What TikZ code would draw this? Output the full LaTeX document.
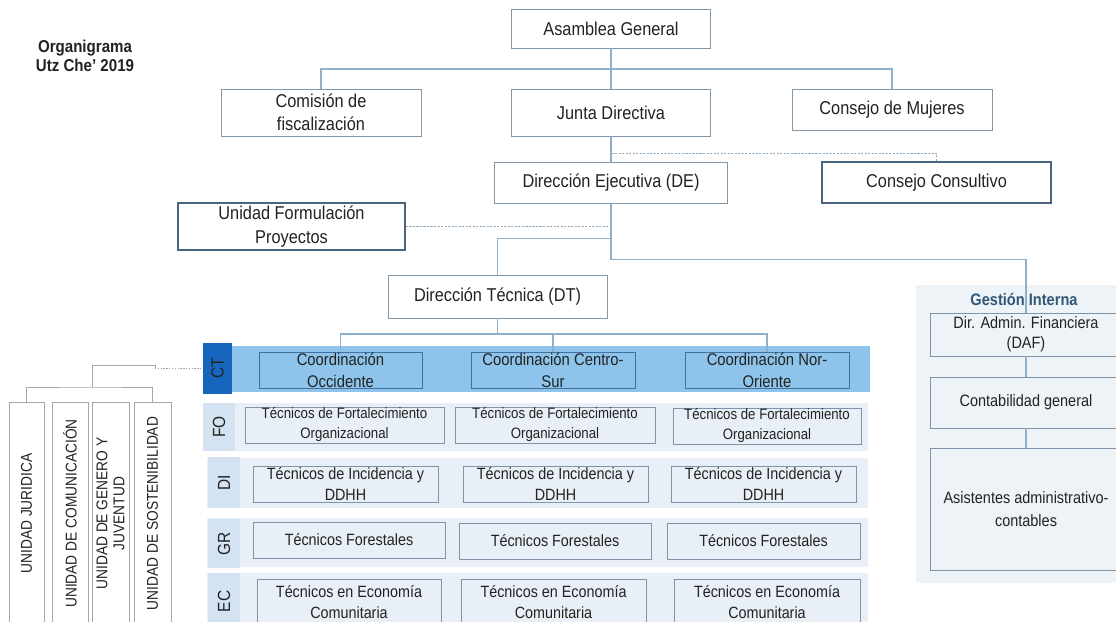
\documentclass[tikz,border=0pt]{standalone}
\usepackage{fontspec}
\setmainfont{Liberation Sans}[FakeStretch=0.88]
\usepackage{tikz}
\usetikzlibrary{calc}

\definecolor{linkblue}{HTML}{8DB1CD}
\definecolor{boxgray}{HTML}{8397AB}
\definecolor{boxdark}{HTML}{4A6580}
\definecolor{ctdark}{HTML}{1766BE}
\definecolor{ctlight}{HTML}{8EC4EB}
\definecolor{coline}{HTML}{40719F}
\definecolor{rowbg}{HTML}{E9EFF7}
\definecolor{rowcell}{HTML}{D4E3F2}
\definecolor{rowline}{HTML}{8093A8}
\definecolor{gibg}{HTML}{EEF3F8}
\definecolor{gititle}{HTML}{335777}
\definecolor{unitline}{HTML}{A0A8B0}
\definecolor{txt}{HTML}{222222}

\begin{document}
\begin{tikzpicture}[x=0.025cm, y=-0.025cm,
  box/.style={rectangle, draw=boxgray, fill=white, text=txt, align=center,
    inner sep=0pt, font=\fontsize{13.2}{16.5}\selectfont},
  thickbox/.style={box, draw=boxdark, line width=1.2pt},
  coord/.style={rectangle, draw=coline, fill=ctlight, text=txt, align=center,
    inner sep=0pt, minimum height=0.9cm, font=\fontsize{12}{15.6}\selectfont},
  tech/.style={rectangle, draw=rowline, fill=rowbg, text=txt, align=center,
    inner sep=0pt, minimum height=0.9cm, font=\fontsize{11.6}{15}\selectfont},
  rowtag/.style={rectangle, fill=rowcell, text=txt, rotate=90, inner sep=0pt,
    font=\fontsize{12.5}{14}\selectfont},
  unit/.style={rectangle, draw=unitline, fill=white, text=txt, rotate=90, align=center,
    inner sep=0pt, minimum width=5.575cm, font=\fontsize{11.1}{12}\selectfont},
  gibox/.style={rectangle, draw=rowline, fill=gibg, text=txt, align=center,
    inner sep=0pt, minimum width=4.8cm, font=\fontsize{11.7}{14.5}\selectfont},
  conn/.style={draw=linkblue, line width=0.8pt},
  dashconn/.style={draw=linkblue!80!gray, line width=0.8pt, dash pattern=on 1.5pt off 1pt},
  uline/.style={draw=unitline, line width=0.6pt}]
 \useasboundingbox (0,0) rectangle (1116,622);
 \fill[white] (0,0) rectangle (1116,622);
 % bands behind the technical rows
 \fill[ctlight] (203,346) rectangle (870,392);
 \fill[rowbg] (203,403) rectangle (868,451);
 \fill[rowbg] (207,458) rectangle (868,508);
 \fill[rowbg] (207,518) rectangle (868,567);
 \fill[rowbg] (207,573) rectangle (868,630);
 \fill[gibg] (916,285) rectangle (1130,583);

 \node [text=txt, align=center, font=\bfseries\fontsize{12.2}{13.5}\selectfont] (title) at (85,56) {Organigrama\\Utz Che’ 2019};

 \node [box, minimum width=4.975cm, minimum height=0.975cm] (asamblea)   at (611,28.5)  {Asamblea General};
 \node [box, minimum width=5cm,     minimum height=1.175cm] (comision)   at (321,112.5) {Comisión de\\fiscalización};
 \node [box, minimum width=4.975cm, minimum height=1.175cm] (junta)      at (611,112.5) {Junta Directiva};
 \node [box, minimum width=5cm,     minimum height=1.025cm] (mujeres)    at (892,109.5) {Consejo de Mujeres};
 \node [box, minimum width=5.825cm, minimum height=1.025cm] (ejecutiva)  at (611,182.5) {Dirección Ejecutiva (DE)};
 \node [thickbox, minimum width=5.725cm, minimum height=1.025cm] (consultivo) at (936.5,182.5) {Consejo Consultivo};
 \node [thickbox, minimum width=5.675cm, minimum height=1.175cm] (formulacion) at (291.5,226.5) {Unidad Formulación\\Proyectos};
 \node [box, minimum width=5.475cm, minimum height=1.075cm] (tecnica)    at (497.5,296.5) {Dirección Técnica (DT)};

 % row labels
 \node [rowtag, fill=ctdark, minimum width=1.25cm, minimum height=0.725cm] (ct) at (217.5,368.5) {CT};
 \node [rowtag, minimum width=1.2cm,   minimum height=0.8cm] (fo) at (219,427)   {FO};
 \node [rowtag, minimum width=1.275cm, minimum height=0.8cm] (di) at (224,482.5) {DI};
 \node [rowtag, minimum width=1.225cm, minimum height=0.8cm] (gr) at (224,543.5) {GR};
 \node [rowtag, minimum width=1.425cm, minimum height=0.8cm] (ec) at (224,601.5) {EC};

 \node [coord, minimum width=4.075cm] (coord1) at (340.5,370) {Coordinación\\Occidente};
 \node [coord, minimum width=4.1cm]   (coord2) at (553,370)   {Coordinación Centro-\\Sur};
 \node [coord, minimum width=4.1cm]   (coord3) at (767,370)   {Coordinación Nor-\\Oriente};

 \node [tech, minimum width=4.975cm, font=\fontsize{10.7}{14.2}\selectfont] (fo1) at (344.5,425) {Técnicos de Fortalecimiento\\Organizacional};
 \node [tech, minimum width=5cm,     font=\fontsize{10.7}{14.2}\selectfont] (fo2) at (555,425)   {Técnicos de Fortalecimiento\\Organizacional};
 \node [tech, minimum width=4.7cm,   font=\fontsize{10.7}{14.2}\selectfont] (fo3) at (767,426)   {Técnicos de Fortalecimiento\\Organizacional};
 \node [tech, minimum width=4.625cm] (di1) at (345.5,484) {Técnicos de Incidencia y\\DDHH};
 \node [tech, minimum width=4.625cm] (di2) at (555.5,484) {Técnicos de Incidencia y\\DDHH};
 \node [tech, minimum width=4.625cm] (di3) at (763.5,484) {Técnicos de Incidencia y\\DDHH};
 \node [tech, minimum width=4.8cm]   (gr1) at (349,540)   {Técnicos Forestales};
 \node [tech, minimum width=4.8cm]   (gr2) at (555,541)   {Técnicos Forestales};
 \node [tech, minimum width=4.825cm] (gr3) at (763.5,541) {Técnicos Forestales};
 \node [tech, minimum width=4.6cm,   minimum height=1.15cm] (ec1) at (349,602)   {Técnicos en Economía\\Comunitaria};
 \node [tech, minimum width=4.625cm, minimum height=1.15cm] (ec2) at (553.5,602) {Técnicos en Economía\\Comunitaria};
 \node [tech, minimum width=4.65cm,  minimum height=1.15cm] (ec3) at (767,602)   {Técnicos en Economía\\Comunitaria};

 % staff units, left
 \node [unit, minimum height=0.875cm] (juridica)     at (26.5,513.5)  {UNIDAD JURIDICA};
 \node [unit, minimum height=0.9cm]   (comunicacion) at (70,513.5)    {UNIDAD DE COMUNICACIÓN};
 \node [unit, minimum height=0.925cm] (genero)       at (110.5,513.5) {UNIDAD DE GENERO Y\\JUVENTUD};
 \node [unit, minimum height=0.925cm] (sostenible)   at (152.5,513.5) {UNIDAD DE SOSTENIBILIDAD};

 % Gestion Interna
 \node [text=gititle, font=\bfseries\fontsize{11.8}{14}\selectfont] (gestion) at (1024,299) {Gestión Interna};
 \node [gibox, minimum height=1.075cm] (daf)       at (1026,334.5) {Dir. Admin. Financiera\\(DAF)};
 \node [gibox, minimum height=1.275cm] (contable)  at (1026,402.5) {Contabilidad general};
 \node [gibox, minimum height=3.05cm, font=\fontsize{11.7}{16.4}\selectfont] (asistentes) at (1026,509) {Asistentes administrativo-\\contables};

 \coordinate (agbus) at (611,69);
 \coordinate (dtbus) at (497.5,334);
 \coordinate (ubus) at (92,387);
 \coordinate (ujoin) at (155,368.5);

  \draw[conn] (asamblea) -- (junta);
  \draw[conn] (comision.north) |- (agbus) -| (mujeres.north);
  \draw[conn] (junta) -- (ejecutiva);
  \draw[dashconn] (junta.south) -- ++(0,17) -| (consultivo.north);
  \draw[dashconn] (formulacion.east) -- (formulacion.east -| ejecutiva.south);
  \draw[conn] (ejecutiva.south) -- ++(0,35) -| (tecnica.north);
  \draw[conn] (ejecutiva.south) -- ++(0,56) -| (daf.north);
  \draw[conn] (tecnica.south) -- (dtbus);
  \draw[conn] (coord1.north) |- (dtbus) -| (coord3.north);
  \draw[conn] (coord2.north) -- (coord2.north |- dtbus);
  \draw[conn] (daf) -- (contable);
  \draw[conn] (contable) -- (asistentes);
  \draw[uline] (juridica.east) |- (ubus) -| (sostenible.east);
  \draw[uline] (ubus) -- ++(0,-22) -| (ujoin);
  \draw[uline, dash pattern=on 1pt off 1pt] (ujoin) -- (ct.north);
\end{tikzpicture}
\end{document}
